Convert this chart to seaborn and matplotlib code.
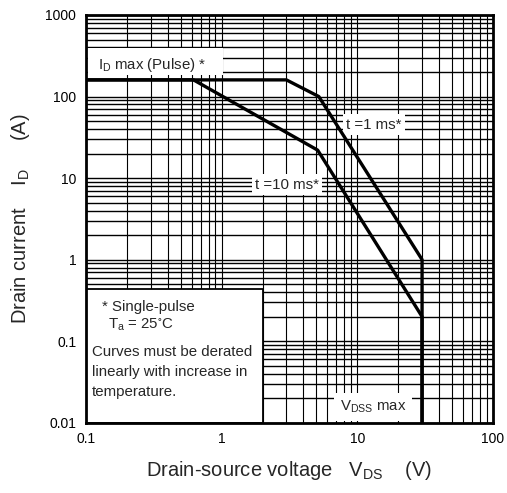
import matplotlib
matplotlib.use("Agg")
import matplotlib.pyplot as plt
from matplotlib.patches import Rectangle
import numpy as np
import pandas as pd
import seaborn as sns

# safe operating area curves
pulse_labels = ["t =1 ms*", "t =10 ms*"]
vds_1ms = [0.1, 3.0, 5.2, 30.0, 30.0]
id_1ms = [160, 160, 100, 1.0, 0.01]
vds_10ms = [0.1, 0.62, 5.1, 30.0, 30.0]
id_10ms = [160, 160, 22, 0.2, 0.01]

x_ticks = [0.1, 1, 10, 100]
x_tick_labels = ["0.1", "1", "10", "100"]
y_ticks = [0.01, 0.1, 1, 10, 100, 1000]
y_tick_labels = ["0.01", "0.1", "1", "10", "100", "1000"]

note_lines = ["* Single-pulse", "T$_{a}$ = 25$^{\\circ}$C", "Curves must be derated",
              "linearly with increase in", "temperature."]

df = pd.concat([
    pd.DataFrame({"vds": vds_1ms, "id": id_1ms, "pulse": pulse_labels[0]}),
    pd.DataFrame({"vds": vds_10ms, "id": id_10ms, "pulse": pulse_labels[1]}),
])

sns.set_theme(style="white")
plt.rcParams["font.family"] = ["Liberation Sans", "DejaVu Sans"]
plt.rcParams["mathtext.default"] = "regular"

fig = plt.figure(figsize=(5.07, 4.93), dpi=100)
ax = fig.add_axes([0.1696, 0.1426, 0.8028, 0.827])

sns.lineplot(data=df, x="vds", y="id", hue="pulse", palette=["black", "black"],
             units="pulse", estimator=None, sort=False, legend=False,
             linewidth=2.4, ax=ax, zorder=5)

ax.set_xscale("log")
ax.set_yscale("log")
ax.set_xlim(0.1, 100)
ax.set_ylim(0.01, 1000)
ax.set_xticks(x_ticks, x_tick_labels)
ax.set_yticks(y_ticks, y_tick_labels)
for axis in (ax.xaxis, ax.yaxis):
    axis.set_minor_locator(matplotlib.ticker.LogLocator(subs=np.arange(2, 10)))
    axis.set_minor_formatter(matplotlib.ticker.NullFormatter())
ax.xaxis.grid(True, which="both", color="black", linewidth=0.8)
ax.yaxis.grid(True, which="both", color="black", linewidth=1.0)
ax.set_axisbelow(True)
ax.tick_params(which="both", length=0, labelsize=10, colors="black")
ax.tick_params(axis="x", pad=7)
ax.tick_params(axis="y", pad=7)
for sp in ax.spines.values():
    sp.set_color("black")
    sp.set_linewidth(2.0)

ax.set_xlabel("Drain-source voltage   V$_{DS}$    (V)", fontsize=14.5, labelpad=9)
ax.set_ylabel("Drain current    I$_{D}$     (A)", fontsize=14.5, labelpad=10)

# white boxes that hide the grid behind the labels
ax.add_patch(Rectangle((0, 0), 0.435, 0.328, transform=ax.transAxes,
                       facecolor="white", edgecolor="black", linewidth=1.3, zorder=2))
ax.add_patch(Rectangle((0.004, 0.853), 0.333, 0.066, transform=ax.transAxes,
                       facecolor="white", edgecolor="none", zorder=2))

note_x = [0.039, 0.054, 0.015, 0.015, 0.015]
note_y = [0.285, 0.24, 0.173, 0.124, 0.075]
for tx, ty, line in zip(note_x, note_y, note_lines):
    ax.text(tx, ty, line, transform=ax.transAxes, fontsize=10.8, va="center", zorder=3)

box = dict(facecolor="white", edgecolor="none", pad=2.5)
ax.text(0.1226, 244, "I$_{D}$ max (Pulse) *", fontsize=10.8, va="center", zorder=3)
ax.text(8.3, 45, pulse_labels[0], fontsize=10.8, va="center", bbox=box, zorder=3)
ax.text(1.76, 8.3, pulse_labels[1], fontsize=10.8, va="center", bbox=box, zorder=3)
ax.text(7.45, 0.0155, "V$_{DSS}$ max", fontsize=10.8, va="center",
        bbox=dict(facecolor="white", edgecolor="none", pad=4), zorder=3)

fig.savefig("out.png", dpi=100)
